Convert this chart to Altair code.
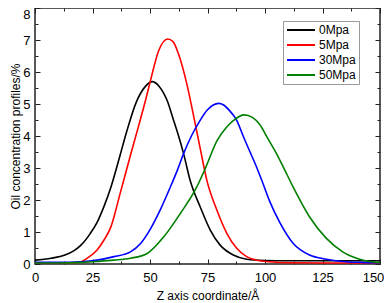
import altair as alt
import pandas as pd

FONT = "Liberation Sans"

series_names = ["0Mpa", "5Mpa", "30Mpa", "50Mpa"]
series_colors = ["#000000", "#ff0000", "#0000ff", "#008000"]

# 0Mpa
x_0 = [0, 7, 13, 17, 20, 24, 27, 30, 33, 37, 40, 44, 48, 51, 54, 57.5, 60, 62, 64.6, 67.5,
       71.8, 76.2, 80.5, 86.2, 92, 100, 110, 120, 130, 140, 150]
y_0 = [0.12, 0.18, 0.28, 0.42, 0.59, 0.95, 1.3, 1.8, 2.4, 3.4, 4.17, 5.05, 5.55, 5.70, 5.55,
       5.1, 4.55, 4.1, 3.45, 2.6, 1.79, 1.06, 0.59, 0.28, 0.15, 0.11, 0.1, 0.1, 0.1, 0.1, 0.1]
# 5Mpa
x_5 = [0, 10, 17, 20, 23, 27, 30, 33, 37, 41.5, 45, 48, 50.2, 53.8, 57.7, 60, 62.4, 66, 69.6,
       72, 74.7, 79.1, 83.4, 87.7, 92, 96.4, 102, 110, 130, 150]
y_5 = [0.03, 0.03, 0.04, 0.07, 0.2, 0.44, 0.75, 1.16, 2.2, 3.4, 4.3, 5.1, 5.73, 6.67, 7.03, 6.95,
       6.56, 5.63, 4.4, 3.55, 2.62, 1.68, 0.96, 0.49, 0.23, 0.12, 0.07, 0.04, 0.03, 0.03]
# 30Mpa
x_30 = [0, 10, 20, 27, 34.3, 41.5, 45.9, 50.2, 54.5, 58.8, 62, 64.6, 68, 71.8, 75, 77.5, 79.8,
        82, 84.5, 87.7, 90.5, 93.5, 96.5, 99.2, 102.1, 106.4, 112.2, 119.4, 126.7, 135.3, 142, 150]
y_30 = [0.05, 0.05, 0.07, 0.12, 0.23, 0.38, 0.64, 1.1, 1.7, 2.4, 2.95, 3.45, 4.0, 4.49, 4.82,
        4.97, 5.02, 4.97, 4.8, 4.49, 4.0, 3.5, 3.0, 2.5, 1.95, 1.3, 0.65, 0.28, 0.15, 0.07, 0.05, 0.04]
# 50Mpa
x_50 = [0, 10, 20, 27, 34.3, 41.5, 48.8, 56, 63.2, 70, 74, 79.1, 83, 86.2, 90.9, 94.5, 97.8,
        101, 105, 108.5, 112.2, 119.4, 126.7, 133.8, 141.1, 150]
y_50 = [0.03, 0.03, 0.05, 0.08, 0.12, 0.18, 0.33, 0.85, 1.58, 2.36, 2.98, 3.85, 4.25, 4.48,
        4.66, 4.58, 4.35, 3.95, 3.45, 2.95, 2.41, 1.47, 0.8, 0.38, 0.15, 0.04]

x_major = [0, 25, 50, 75, 100, 125, 150]
x_minor = [12.5, 37.5, 62.5, 87.5, 112.5, 137.5]
y_major = [0, 1, 2, 3, 4, 5, 6, 7, 8]
y_minor = [0.5, 1.5, 2.5, 3.5, 4.5, 5.5, 6.5, 7.5]

rows = []
for name, xs, ys in zip(series_names, [x_0, x_5, x_30, x_50], [y_0, y_5, y_30, y_50]):
    for i, (x, y) in enumerate(zip(xs, ys)):
        rows.append({"series": name, "z": x, "c": y, "i": i})
df = pd.DataFrame(rows)

xscale = alt.Scale(domain=[0, 150], nice=False, zero=False)
yscale = alt.Scale(domain=[0, 8], nice=False, zero=False)

base = alt.Chart(df)

lines = base.mark_line(strokeWidth=1.6, interpolate="monotone").encode(
    x=alt.X("z:Q", scale=xscale,
            axis=alt.Axis(values=x_major, ticks=False, domain=False, grid=False,
                          labelFlush=False, labelOverlap=False,
                          labelOffset={"condition": {"test": "datum.value == 150", "value": -7},
                                       "value": 0},
                          labelPadding=7, labelFontSize=13, labelFont=FONT, labelColor="black",
                          title="Z axis coordinate/Å", titlePadding=6, titleFontSize=12,
                          titleFont=FONT, titleColor="black", titleFontWeight="normal")),
    y=alt.Y("c:Q", scale=yscale,
            axis=alt.Axis(values=y_major, ticks=False, domain=False, grid=False,
                          labelFlush=False, labelOverlap=False,
                          labelBaseline={"condition": {"test": "datum.value == 8", "value": "top"},
                                         "value": "middle"},
                          labelPadding=5, labelFontSize=13, labelFont=FONT, labelColor="black",
                          title="Oil concentration profiles/%", titlePadding=0, titleFontSize=12,
                          titleFont=FONT, titleColor="black", titleFontWeight="normal")),
    color=alt.Color("series:N", scale=alt.Scale(domain=series_names, range=series_colors),
                    legend=alt.Legend(title=None, orient="none", legendX=248, legendY=13,
                                      symbolType="stroke", symbolSize=784, symbolStrokeWidth=2,
                                      clipHeight=12, labelFontSize=12, labelFont=FONT,
                                      labelColor="black", strokeColor="#999999",
                                      fillColor="white", padding=3, rowPadding=3,
                                      labelOffset=3)),
    order="i:Q",
)


def tick_layer(xvals, yvals, xorient, yorient, size):
    return base.mark_line(opacity=0).encode(
        x=alt.X("z:Q", scale=xscale,
                axis=alt.Axis(orient=xorient, values=xvals, offset=-size, tickSize=size,
                              domain=False, labels=False, grid=False, title=None,
                              tickColor="#222222", tickWidth=1)),
        y=alt.Y("c:Q", scale=yscale,
                axis=alt.Axis(orient=yorient, values=yvals, offset=-size, tickSize=size,
                              domain=False, labels=False, grid=False, title=None,
                              tickColor="#222222", tickWidth=1)),
        detail="series:N",
    )


chart = alt.layer(
    lines,
    tick_layer(x_major, y_major, "bottom", "left", 5),
    tick_layer(x_minor, y_minor, "bottom", "left", 3),
    tick_layer(x_major, y_major, "top", "right", 5),
    tick_layer(x_minor, y_minor, "top", "right", 3),
).resolve_axis(x="independent", y="independent").properties(
    width=345, height=256,
    autosize=alt.AutoSizeParams(type="none"),
    padding={"left": 27, "top": 0, "right": 4, "bottom": 38},
).configure_view(stroke="#222222", strokeWidth=1.5)

chart.save("out.html", embed_options={"renderer": "svg", "actions": False})
